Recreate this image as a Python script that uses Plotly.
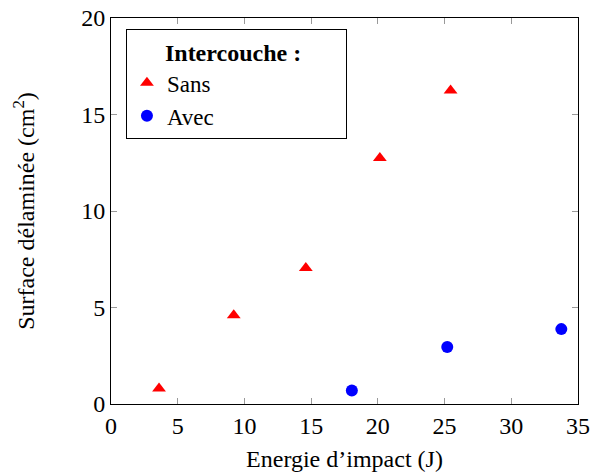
import plotly.graph_objects as go

sans_x = [3.6, 9.2, 14.6, 20.15, 25.45]
sans_y = [0.8, 4.6, 7.05, 12.75, 16.25]
avec_x = [18.05, 25.2, 33.75]
avec_y = [0.7, 2.95, 3.88]

x_ticks = [0, 5, 10, 15, 20, 25, 30, 35]
y_ticks = [0, 5, 10, 15, 20]

FONT = "Liberation Serif"
FS = 24

fig = go.Figure()
fig.add_trace(go.Scatter(x=sans_x, y=sans_y, mode="markers", name="Sans",
                         marker=dict(symbol="triangle-up", size=12, color="#ff0000")))
fig.add_trace(go.Scatter(x=avec_x, y=avec_y, mode="markers", name="Avec",
                         marker=dict(symbol="circle", size=12, color="#0000ff")))

axis_common = dict(showgrid=False, zeroline=False, showline=True, linecolor="black",
                   linewidth=1, mirror="ticks", ticks="inside", ticklen=6,
                   tickcolor="#999999", tickwidth=1, automargin=False,
                   tickfont=dict(family=FONT, size=FS, color="black"))

NB = "&nbsp;"
fig.update_layout(
    width=590, height=476,
    margin=dict(l=111, r=12, t=18, b=72),
    paper_bgcolor="white", plot_bgcolor="white",
    font=dict(family=FONT, size=FS, color="black"),
    xaxis=dict(range=[0, 35], tickvals=x_ticks,
               title=dict(text="Energie d’impact (J)", font=dict(family=FONT, size=FS), standoff=12),
               **axis_common),
    yaxis=dict(range=[0, 20], tickvals=y_ticks,
               title=dict(text="Surface délaminée (cm<sup>2</sup>)", font=dict(family=FONT, size=FS), standoff=39),
               **axis_common),
    legend=dict(x=0.032, y=0.971, xanchor="left", yanchor="top",
                bordercolor="black", borderwidth=1, bgcolor="white",
                itemwidth=30, tracegroupgap=0,
                title=dict(text=NB * 6 + "<b>Intercouche :</b>" + NB * 7, side="top",
                           font=dict(family=FONT, size=FS)),
                font=dict(family=FONT, size=23)),
    showlegend=True,
)

fig.write_html("out.html", config={"displayModeBar": False},
               post_script="document.body.style.margin='0';document.body.style.padding='0';")
